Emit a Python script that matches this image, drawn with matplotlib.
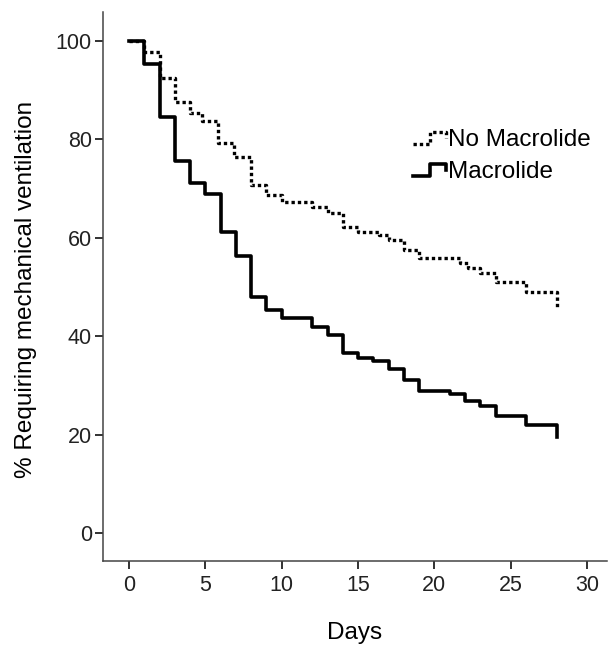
import matplotlib
matplotlib.use("Agg")
import matplotlib.pyplot as plt
from matplotlib.lines import Line2D
from matplotlib.legend_handler import HandlerLine2D

plt.rcParams['font.family'] = ['Liberation Sans', 'DejaVu Sans']

#============================data============================#
days_macro = [0, 1, 2, 3, 4, 5, 6, 7, 8, 9, 10, 12, 13, 14, 15, 16, 17, 18, 19, 21, 22, 23, 24, 26, 28]
pct_macro = [100, 95.3, 84.6, 75.6, 71.1, 68.9, 61.2, 56.3, 48.0, 45.3, 43.6, 41.9, 40.2, 36.6, 35.5,
             35.0, 33.4, 31.0, 28.9, 28.2, 26.8, 25.8, 23.8, 22.0, 19.5]

days_nomacro = [0, 1, 2, 3, 4, 4.8, 5.8, 6.9, 8, 9, 10, 12, 13, 14, 15, 16.4, 17, 18, 19, 21.7, 22.2,
                23, 24, 26, 28]
pct_nomacro = [100, 97.8, 92.4, 87.7, 85.4, 83.8, 79.2, 76.5, 70.7, 68.8, 67.3, 66.3, 65.0, 62.1, 61.2,
               60.6, 59.6, 57.5, 55.8, 54.8, 53.8, 52.8, 51.1, 49.0, 46.0]

x_ticks = [0, 5, 10, 15, 20, 25, 30]
y_ticks = [0, 20, 40, 60, 80, 100]


# step shaped legend symbol, like SPSS draws it
class StepHandler(HandlerLine2D):
    def create_artists(self, legend, orig_handle, xdescent, ydescent, width, height, fontsize, trans):
        x0 = -xdescent
        y0 = -ydescent
        xs = [x0, x0 + 0.5 * width, x0 + 0.5 * width, x0 + width, x0 + width]
        ys = [y0 + 0.1 * height, y0 + 0.1 * height, y0 + 0.8 * height, y0 + 0.8 * height, y0 + 0.45 * height]
        line = Line2D(xs, ys)
        self.update_prop(line, orig_handle, legend)
        line.set_transform(trans)
        return [line]


#============================plot============================#
fig = plt.figure(figsize=(6.11, 6.45), dpi=100)
ax = fig.add_axes([103 / 611, 1 - 561 / 645, 504 / 611, 549 / 645])

l1, = ax.step(days_nomacro, pct_nomacro, where='post', color='black', linewidth=2.4,
              linestyle=(0, (1, 0.9)), label='No Macrolide')
l2, = ax.step(days_macro, pct_macro, where='post', color='black', linewidth=2.6, label='Macrolide')

ax.set_xlim(-1.7, 31.3)
ax.set_ylim(-5.7, 105.9)
ax.set_xticks(x_ticks)
ax.set_yticks(y_ticks)

for s in ['top', 'right']:
    ax.spines[s].set_visible(False)
for s in ['left', 'bottom']:
    ax.spines[s].set_color('#444444')
    ax.spines[s].set_linewidth(1.1)

ax.tick_params(axis='both', direction='out', length=6, width=1.3, colors='#222222', labelsize=15.5)
ax.tick_params(axis='x', pad=4)
ax.tick_params(axis='y', pad=2)

ax.set_xlabel('Days', fontsize=17.5)
ax.set_ylabel('% Requiring mechanical ventilation', fontsize=17.5)
ax.xaxis.label.set_va('center')
ax.yaxis.label.set_va('center')
ax.xaxis.set_label_coords(0.5, -0.131)
ax.yaxis.set_label_coords(-0.153, 0.494)

leg = ax.legend(handles=[l1, l2], handler_map={Line2D: StepHandler()}, loc='upper left',
                bbox_to_anchor=(413 / 611, 1 - 129 / 645), bbox_transform=fig.transFigure,
                frameon=False, fontsize=17.5, handlelength=1.36, handletextpad=0.1,
                labelspacing=0.4, borderpad=0, borderaxespad=0)

fig.savefig('out.png', dpi=100)
